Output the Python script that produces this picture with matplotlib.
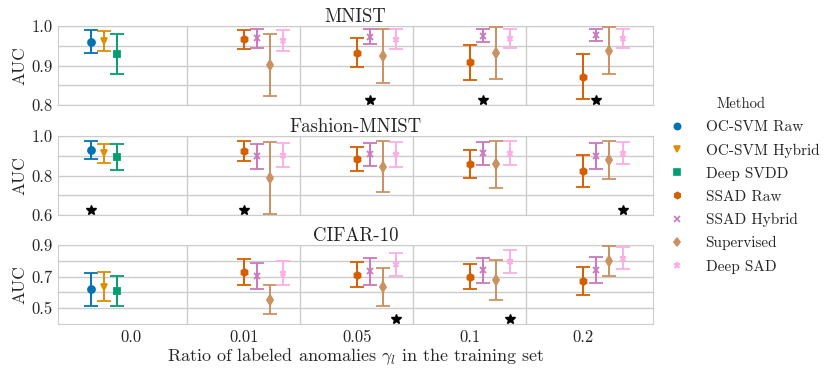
import numpy as np
import matplotlib
matplotlib.use("Agg")
import matplotlib.pyplot as plt
from matplotlib.lines import Line2D

plt.rcParams['font.family'] = ['cmr10', 'DejaVu Serif']
plt.rcParams['mathtext.fontset'] = 'cm'
plt.rcParams['axes.formatter.use_mathtext'] = True

ratios = ['0.0', '0.01', '0.05', '0.1', '0.2']
methods = ['OC-SVM Raw', 'OC-SVM Hybrid', 'Deep SVDD', 'SSAD Raw',
           'SSAD Hybrid', 'Supervised', 'Deep SAD']
colors = ['#0173b2', '#de8f05', '#029e73', '#d55e00', '#cc78bc', '#ca9161', '#fbafe4']
markers = ['o', 'v', 's', 'h', 'x', 'd', '*']
nan = np.nan

# mean AUC per method (rows) and ratio (columns)
mnist_mean = [
    [0.960, nan, nan, nan, nan],
    [0.963, nan, nan, nan, nan],
    [0.929, nan, nan, nan, nan],
    [nan, 0.966, 0.933, 0.908, 0.872],
    [nan, 0.969, 0.973, 0.976, 0.977],
    [nan, 0.901, 0.925, 0.931, 0.938],
    [nan, 0.964, 0.967, 0.969, 0.969],
]
mnist_std = [
    [0.029, nan, nan, nan, nan],
    [0.025, nan, nan, nan, nan],
    [0.050, nan, nan, nan, nan],
    [nan, 0.024, 0.036, 0.044, 0.057],
    [nan, 0.024, 0.019, 0.017, 0.016],
    [nan, 0.079, 0.068, 0.066, 0.059],
    [nan, 0.027, 0.026, 0.024, 0.024],
]
fmnist_mean = [
    [0.929, nan, nan, nan, nan],
    [0.914, nan, nan, nan, nan],
    [0.895, nan, nan, nan, nan],
    [nan, 0.925, 0.885, 0.858, 0.822],
    [nan, 0.898, 0.908, 0.912, 0.899],
    [nan, 0.787, 0.845, 0.857, 0.879],
    [nan, 0.904, 0.907, 0.916, 0.913],
]
fmnist_std = [
    [0.047, nan, nan, nan, nan],
    [0.048, nan, nan, nan, nan],
    [0.065, nan, nan, nan, nan],
    [nan, 0.051, 0.061, 0.071, 0.081],
    [nan, 0.063, 0.059, 0.057, 0.067],
    [nan, 0.184, 0.129, 0.118, 0.096],
    [nan, 0.062, 0.065, 0.061, 0.056],
]
cifar_mean = [
    [0.619, nan, nan, nan, nan],
    [0.636, nan, nan, nan, nan],
    [0.608, nan, nan, nan, nan],
    [nan, 0.730, 0.713, 0.700, 0.673],
    [nan, 0.704, 0.733, 0.739, 0.742],
    [nan, 0.555, 0.635, 0.677, 0.801],
    [nan, 0.724, 0.778, 0.798, 0.817],
]
cifar_std = [
    [0.106, nan, nan, nan, nan],
    [0.092, nan, nan, nan, nan],
    [0.095, nan, nan, nan, nan],
    [nan, 0.083, 0.080, 0.080, 0.089],
    [nan, 0.084, 0.086, 0.081, 0.082],
    [nan, 0.089, 0.118, 0.126, 0.095],
    [nan, 0.075, 0.074, 0.073, 0.071],
]
# (ratio index, method index) of the stars
mnist_stars = [(2, 4), (3, 4), (4, 4)]
fmnist_stars = [(0, 0), (1, 3), (4, 6)]
cifar_stars = [(2, 6), (3, 6)]

panels = [
    ('MNIST', mnist_mean, mnist_std, mnist_stars, (0.8, 1.0), [0.8, 0.9, 1.0], [0.85, 0.95]),
    ('Fashion-MNIST', fmnist_mean, fmnist_std, fmnist_stars, (0.6, 1.0), [0.6, 0.8, 1.0], [0.7, 0.9]),
    ('CIFAR-10', cifar_mean, cifar_std, cifar_stars, (0.4, 0.9), [0.5, 0.7, 0.9], [0.6, 0.8]),
]

fig = plt.figure(figsize=(8.3, 3.69), dpi=100)
bottoms = [0.7154, 0.4173, 0.122]
txt = '.15'
x = np.arange(len(ratios))
offs = np.linspace(-0.35, 0.35, len(methods))

for k, (name, mean, std, stars, ylim, yt, ymt) in enumerate(panels):
    ax = fig.add_axes([0.070, bottoms[k], 0.717, 0.214])
    for i in range(len(methods)):
        ax.errorbar(x + offs[i], mean[i], yerr=std[i], fmt=markers[i], color=colors[i],
                    ms=5, mew=1.3, elinewidth=1.4, capsize=5, capthick=1.4, zorder=3)
    for r, m in stars:
        ax.plot(x[r] + offs[m], ylim[0] + 0.06 * (ylim[1] - ylim[0]), '*', color='k',
                ms=7, zorder=4, clip_on=False)
    ax.set_xlim(-0.64, 4.62)
    ax.set_ylim(*ylim)
    ax.set_yticks(yt)
    ax.set_yticks(ymt, minor=True)
    ax.set_yticklabels([f'{v:.1f}' for v in yt])
    ax.set_xticks(x)
    ax.set_xticks(x[:-1] + 0.5, minor=True)
    ax.grid(False)
    ax.grid(True, which='minor', axis='x', color='.8', lw=1)
    ax.grid(True, which='both', axis='y', color='.8', lw=1)
    ax.set_axisbelow(True)
    for s in ax.spines.values():
        s.set_color('.8')
    ax.tick_params(which='both', length=0, labelsize=12, colors=txt, pad=4)
    ax.set_ylabel('AUC', fontsize=12.5, color=txt, labelpad=3)
    ax.set_title(name, fontsize=13.5, color=txt, pad=3)
    if k < 2:
        ax.set_xticklabels([])
    else:
        ax.set_xticklabels(ratios)
        ax.set_xlabel(r'Ratio of labeled anomalies $\gamma_l$ in the training set',
                      fontsize=13, color=txt, labelpad=1)

handles = [Line2D([], [], ls='none', marker=markers[i], color=colors[i], ms=4.5, mew=1.2)
           for i in range(len(methods))]
leg = fig.legend(handles, methods, title='Method', loc='center left',
                 bbox_to_anchor=(0.782, 0.497), frameon=False, fontsize=11,
                 title_fontsize=10.5, labelspacing=0.6, handletextpad=1.0,
                 handlelength=1.8)
for t in leg.get_texts():
    t.set_color(txt)
leg.get_title().set_color(txt)

fig.savefig('out.png', dpi=100)
